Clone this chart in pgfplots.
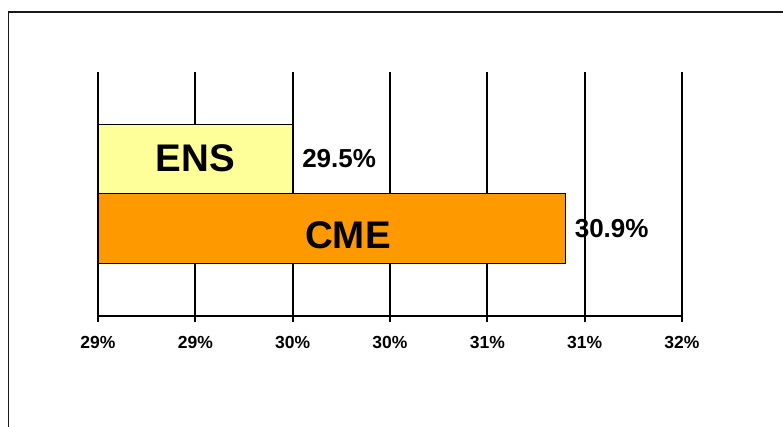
\documentclass[border=0pt]{standalone}
\usepackage{pgfplots}
\pgfplotsset{compat=1.18}
\usepackage{fontspec}
\setmainfont{Liberation Sans}
\definecolor{ensyellow}{HTML}{FFFF99}
\definecolor{cmeorange}{HTML}{FF9900}
\begin{document}
\begin{tikzpicture}
\path[use as bounding box] (-98pt,-110pt) rectangle (685pt,316pt);
\draw[line width=1.6pt, black!90] (-89.5pt,-112pt) -- (-89.5pt,304pt) -- (690pt,304pt);
\begin{axis}[
  at={(0pt,0pt)}, anchor=south west,
  scale only axis, width=584pt, height=244pt,
  xmin=28.5, xmax=31.5, ymin=-0.259, ymax=3.252,
  xbar, bar width=1, bar shift=0pt,
  axis x line=bottom, axis y line=none,
  axis line style={-, line width=1.8pt, black},
  xtick={28.5,29,29.5,30,30.5,31,31.5},
  xticklabels={29\%,29\%,30\%,30\%,31\%,31\%,32\%},
  ytick=\empty,
  tick align=outside, major tick length=6pt,
  tick style={black, line width=1.8pt},
  xmajorgrids, grid style={black, line width=1.8pt},
  xticklabel style={font=\fontsize{17.5}{20}\selectfont\bfseries, yshift=-11pt},
  point meta=x,
  nodes near coords={\pgfmathprintnumber[fixed,fixed zerofill,precision=1,assume math mode=true]{\pgfplotspointmeta}\%},
  every node near coord/.append style={anchor=west, inner sep=0pt, xshift=9pt, font=\fontsize{26}{29}\selectfont\bfseries, black},
]
\addplot[fill=ensyellow, draw=black, line width=1.2pt] coordinates {(29.5,2)};
\addplot[fill=cmeorange, draw=black, line width=1.2pt] coordinates {(30.9,1)};
\node[font=\fontsize{38.5}{42}\selectfont\bfseries] at (axis cs:29.0,2.014) {ENS};
\node[font=\fontsize{38.5}{42}\selectfont\bfseries] at (axis cs:29.784,0.9) {CME};
\end{axis}
\end{tikzpicture}
\end{document}
